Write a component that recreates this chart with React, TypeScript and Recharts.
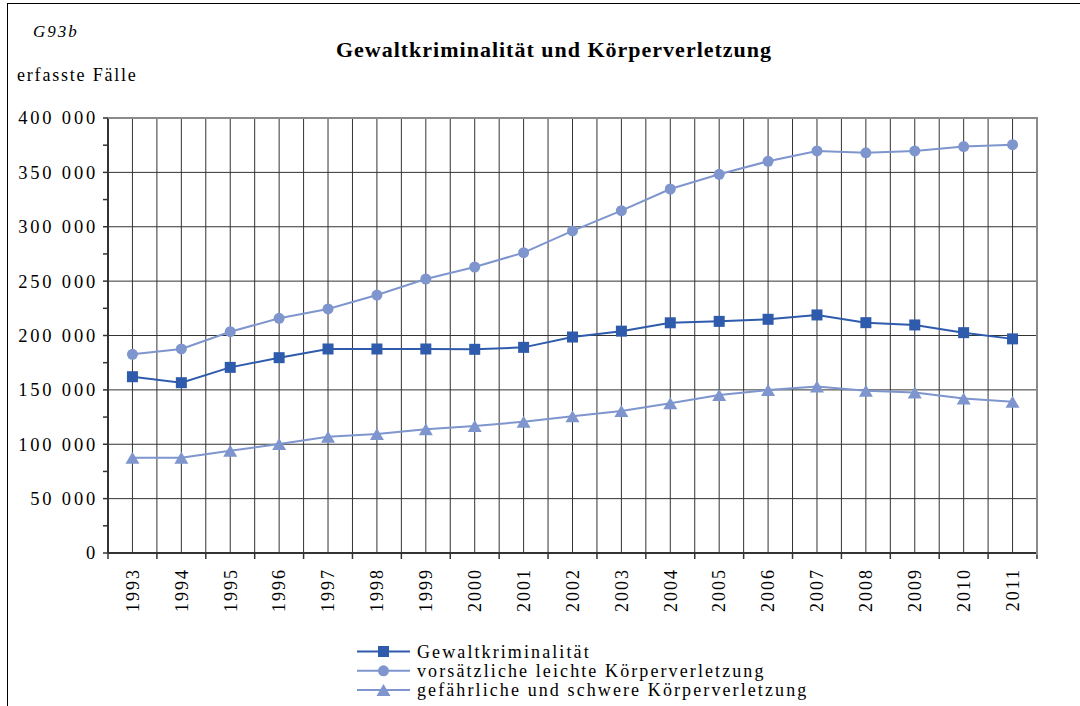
import React from "react";
import { LineChart, Line, XAxis, YAxis, CartesianGrid, Legend } from "recharts";

const years = ["1993", "1994", "1995", "1996", "1997", "1998", "1999", "2000", "2001", "2002", "2003", "2004", "2005", "2006", "2007", "2008", "2009", "2010", "2011"];
const gewalt = [162100, 156600, 170700, 179600, 187600, 187600, 187600, 187300, 189100, 198600, 204000, 211700, 213000, 214900, 218900, 211800, 209700, 202600, 196900];
const leicht = [182700, 187600, 203500, 215800, 224400, 237200, 251900, 263000, 276200, 296200, 314800, 334700, 348200, 360200, 369700, 368000, 369700, 373700, 375500];
const schwer = [87600, 87600, 94100, 100200, 106900, 109400, 113700, 116800, 120700, 125800, 130600, 137600, 145300, 149900, 153000, 149300, 147500, 142000, 139000];

const majorTicks = [0, 50000, 100000, 150000, 200000, 250000, 300000, 350000, 400000];
const allTicks = [0, 25000, 50000, 75000, 100000, 125000, 150000, 175000, 200000, 225000, 250000, 275000, 300000, 325000, 350000, 375000, 400000];

const DARK = "#2E5BAC";
const LIGHT = "#7E95CD";
const FONT = "Liberation Serif, Tinos, Times New Roman, DejaVu Serif, serif";

const data = years.map((year, i) => ({ year, gewalt: gewalt[i], leicht: leicht[i], schwer: schwer[i] }));

const order = ["gewalt", "leicht", "schwer"];
const shapes: Record<string, string> = { gewalt: "square", leicht: "circle", schwer: "triangle" };

const W = 1080;
const H = 706;
const LEFT = 108;
const RIGHT = 43;
const TOP = 118;
const XH = 153;
const HALF = (W - LEFT - RIGHT) / years.length / 2;

const Marker = ({ cx, cy, shape, color }: any) => {
  if (cx == null || cy == null) return null;
  if (shape === "square") return <rect x={cx - 5.5} y={cy - 5.5} width={11} height={11} fill={color} />;
  if (shape === "circle") return <circle cx={cx} cy={cy} r={5.5} fill={color} />;
  return <polygon points={`${cx},${cy - 6} ${cx + 7},${cy + 6} ${cx - 7},${cy + 6}`} fill={color} />;
};

const fmt = (v: number) => (v === 0 ? "0" : `${v / 1000} 000`);

const YTick = ({ x, y, payload }: any) => {
  if (payload.value % 50000 !== 0) return null;
  return (
    <text x={x + 3} y={y} dy="0.35em" textAnchor="end" style={{ fontFamily: FONT }} fontSize={18.5} letterSpacing={2.8} fill="#000">
      {fmt(payload.value)}
    </text>
  );
};

const YearTick = ({ x, y, payload, index }: any) => (
  <g>
    <line x1={x - HALF} x2={x - HALF} y1={y - 6} y2={y} stroke="#333" strokeWidth={1.5} />
    {index === years.length - 1 && <line x1={x + HALF} x2={x + HALF} y1={y - 6} y2={y} stroke="#333" strokeWidth={1.5} />}
    <text
      x={x}
      y={y + 9}
      dy="0.35em"
      textAnchor="end"
      transform={`rotate(-90 ${x} ${y + 9})`}
      style={{ fontFamily: FONT }}
      fontSize={18}
      letterSpacing={2}
      fill="#000"
    >
      {payload.value}
    </text>
  </g>
);

const LegendBox = ({ payload }: any) => {
  const items = [...(payload || [])].sort((a: any, b: any) => order.indexOf(a.dataKey) - order.indexOf(b.dataKey));
  return (
    <svg width={480} height={62}>
      {items.map((p: any, i: number) => {
        const cy = 11.5 + i * 19.3;
        return (
          <g key={p.value}>
            <line x1={2} x2={55} y1={cy} y2={cy} stroke={p.color} strokeWidth={2} />
            <Marker cx={28.5} cy={cy} shape={shapes[p.dataKey]} color={p.color} />
            <text x={62} y={cy + 6} style={{ fontFamily: FONT }} fontSize={18} letterSpacing={2.1} fill="#000">
              {p.value}
            </text>
          </g>
        );
      })}
    </svg>
  );
};

const hLines = ({ yAxis, offset }: any) =>
  majorTicks
    .filter((v) => v > 0 && v < 400000)
    .map((v) => (yAxis && typeof yAxis.scale === "function" ? yAxis.scale(v) : offset.top + offset.height * (1 - v / 400000)));

const vLines = ({ offset }: any) => Array.from({ length: 37 }, (_, i) => offset.left + ((i + 1) * offset.width) / 38);

export default function App() {
  return (
    <div style={{ position: "absolute", left: 0, top: 0, width: W, height: H, background: "#fff", overflow: "hidden" }}>
      <div style={{ position: "absolute", left: 7, top: 3, width: W, height: H, borderTop: "1.5px solid #000", borderLeft: "1.5px solid #000" }} />
      <LineChart width={W} height={H} data={data} margin={{ top: TOP, right: RIGHT, bottom: 0, left: 0 }}>
        <CartesianGrid stroke="#333" strokeWidth={1} horizontalCoordinatesGenerator={hLines} verticalCoordinatesGenerator={vLines} />
        <XAxis
          dataKey="year"
          height={XH}
          interval={0}
          padding={{ left: HALF, right: HALF }}
          tickLine={false}
          tickSize={6}
          tickMargin={0}
          axisLine={{ stroke: "#333", strokeWidth: 2 }}
          tick={<YearTick />}
        />
        <YAxis
          width={LEFT}
          domain={[0, 400000]}
          ticks={allTicks}
          interval={0}
          tickSize={5}
          tickMargin={8}
          tickLine={{ stroke: "#333", strokeWidth: 1.5 }}
          axisLine={{ stroke: "#333", strokeWidth: 2 }}
          tick={<YTick />}
        />
        <Legend
          layout="horizontal"
          verticalAlign="middle"
          content={<LegendBox />}
          wrapperStyle={{ position: "absolute", left: 355, top: 640, width: 480, height: 62 }}
        />
        <Line type="linear" dataKey="gewalt" name="Gewaltkriminalität" stroke={DARK} strokeWidth={2} isAnimationActive={false}
          dot={(p: any) => <Marker key={`g${p.index}`} cx={p.cx} cy={p.cy} shape="square" color={DARK} />} />
        <Line type="linear" dataKey="leicht" name="vorsätzliche leichte Körperverletzung" stroke={LIGHT} strokeWidth={2} isAnimationActive={false}
          dot={(p: any) => <Marker key={`l${p.index}`} cx={p.cx} cy={p.cy} shape="circle" color={LIGHT} />} />
        <Line type="linear" dataKey="schwer" name="gefährliche und schwere Körperverletzung" stroke={LIGHT} strokeWidth={2} isAnimationActive={false}
          dot={(p: any) => <Marker key={`s${p.index}`} cx={p.cx} cy={p.cy} shape="triangle" color={LIGHT} />} />
      </LineChart>
      <div style={{ position: "absolute", left: LEFT, top: TOP - 1, width: W - LEFT - RIGHT - 1, height: H - TOP - XH + 1, borderTop: "2px solid #8a8a8a", borderRight: "2px solid #8a8a8a", pointerEvents: "none" }} />
      <svg width={W} height={120} style={{ position: "absolute", left: 0, top: 0, pointerEvents: "none" }}>
        <text x={33} y={37} style={{ fontFamily: FONT }} fontStyle="italic" fontSize={17} letterSpacing={2} fill="#000">G93b</text>
        <text x={17} y={81} style={{ fontFamily: FONT }} fontSize={18} letterSpacing={1.8} fill="#000">erfasste Fälle</text>
        <text x={554} y={57} textAnchor="middle" style={{ fontFamily: FONT }} fontWeight="bold" fontSize={22} letterSpacing={1} fill="#000">
          Gewaltkriminalität und Körperverletzung
        </text>
      </svg>
    </div>
  );
}
